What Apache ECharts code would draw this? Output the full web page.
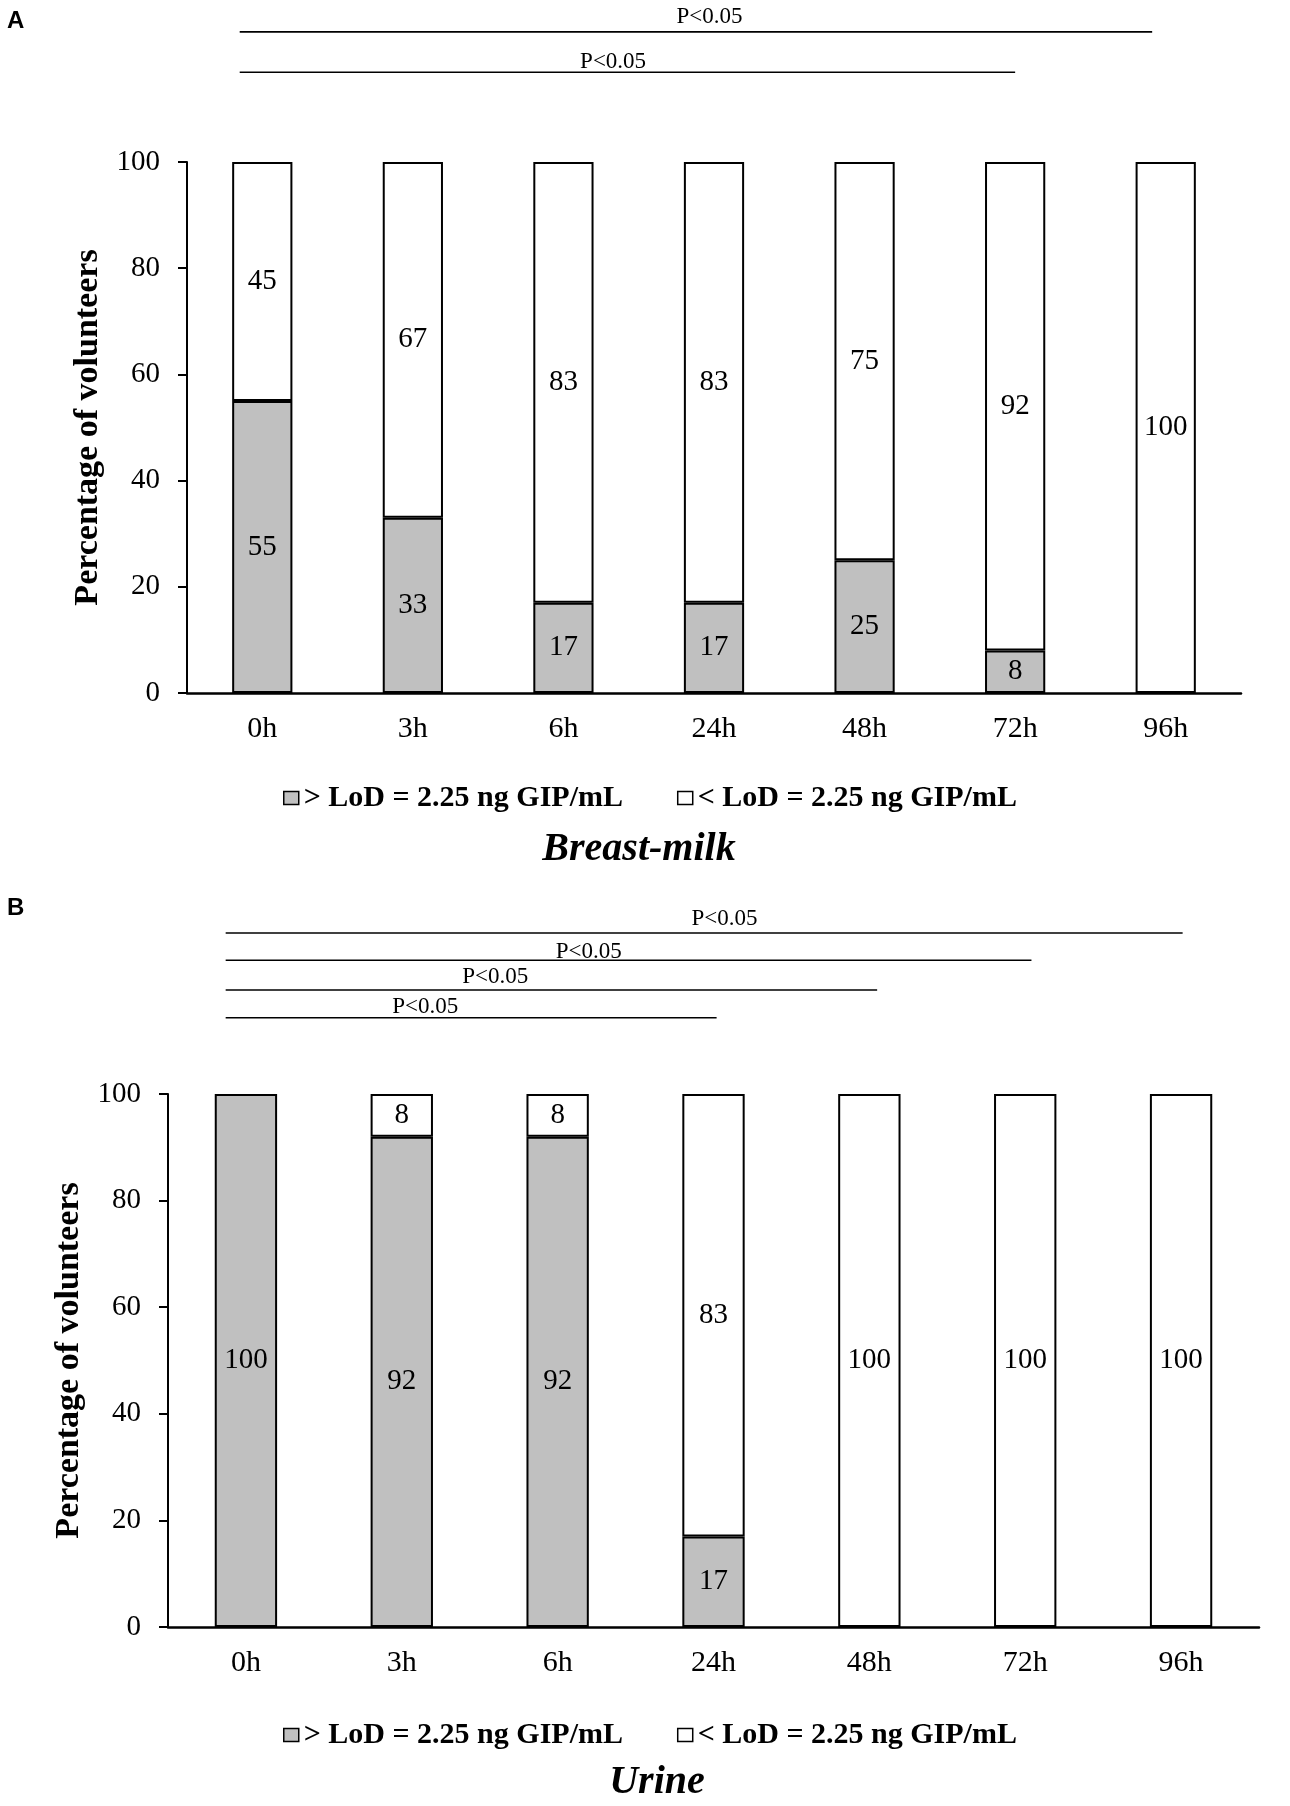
<!DOCTYPE html>
<html>
<head>
<meta charset="utf-8">
<title>GIP detection</title>
<script src="https://cdn.jsdelivr.net/npm/echarts@6/dist/echarts.min.js"></script>
<style>
    html, body { margin: 0; padding: 0; background: #fff; }
    #chart { width: 1290px; height: 1806px; }
</style>
</head>
<body>
<div id="chart"></div>
<script type="text/javascript">
    var categories = ['0h', '3h', '6h', '24h', '48h', '72h', '96h'];
    var yTicks = [0, 20, 40, 60, 80, 100];

    // Breast-milk (panel A)
    var milkAbove = [55, 33, 17, 17, 25, 8, 0];
    var milkBelow = [45, 67, 83, 83, 75, 92, 100];
    // Urine (panel B)
    var urineAbove = [100, 92, 92, 17, 0, 0, 0];
    var urineBelow = [0, 8, 8, 83, 100, 100, 100];

    // significance brackets: [from, to, level, label x, label level]
    // x in category units (0 = 0h centre), level in % units above the 100 line
    var milkBrackets = [
        [-0.15, 5.91, 124.5, 2.97, 127.4],
        [-0.15, 5.00, 116.9, 2.33, 118.8]
    ];
    var urineBrackets = [
        [-0.13, 6.01, 130.2, 3.07, 132.8],
        [-0.13, 5.04, 125.1, 2.20, 126.6],
        [-0.13, 4.05, 119.5, 1.60, 121.9],
        [-0.13, 3.02, 114.3, 1.15, 116.4]
    ];

    var nameAbove = '> LoD = 2.25 ng GIP/mL';
    var nameBelow = '< LoD = 2.25 ng GIP/mL';
    var serif = '"Liberation Serif", "Times New Roman", serif';

    var myChart = echarts.init(document.getElementById('chart'));

    // empty segments are not drawn (no border line at 0)
    function noZero(arr) {
        return arr.map(function (v) { return v === 0 ? '-' : v; });
    }

    function renderBracket(params, api) {
        var p0 = api.coord([api.value(0), api.value(2)]);
        var p1 = api.coord([api.value(1), api.value(2)]);
        var pt = api.coord([api.value(3), api.value(4)]);
        return {
            type: 'group',
            children: [
                {
                    type: 'line',
                    shape: {x1: p0[0], y1: p0[1], x2: p1[0], y2: p1[1]},
                    style: {stroke: '#000', lineWidth: 1.6}
                },
                {
                    type: 'text',
                    x: pt[0],
                    y: pt[1],
                    style: {
                        text: 'P<0.05', fill: '#000',
                        font: '23px ' + serif,
                        align: 'center', verticalAlign: 'middle'
                    }
                }
            ]
        };
    }

    function catAxis(idx) {
        return {
            type: 'category',
            gridIndex: idx,
            data: categories,
            axisLine: {lineStyle: {color: '#000', width: 2.5}},
            axisTick: {show: false},
            axisLabel: {color: '#000', fontFamily: serif, fontSize: 30, margin: 21}
        };
    }

    function valAxis(idx) {
        return {
            type: 'value',
            gridIndex: idx,
            min: yTicks[0],
            max: yTicks[yTicks.length - 1],
            interval: yTicks[1] - yTicks[0],
            name: 'Percentage of volunteers',
            nameLocation: 'middle',
            nameGap: 80,
            nameTextStyle: {color: '#000', fontFamily: serif, fontSize: 34, fontWeight: 'bold'},
            axisLine: {show: true, onZero: false, lineStyle: {color: '#000', width: 2}},
            axisTick: {show: true, length: 9, lineStyle: {color: '#000', width: 2}},
            axisLabel: {color: '#000', fontFamily: serif, fontSize: 29, margin: 27},
            splitLine: {show: false}
        };
    }

    function posAxis(idx) {
        return {type: 'value', gridIndex: idx, min: -0.5, max: 6.5, show: false};
    }

    function barSeries(name, data, color, xi, yi, stack) {
        return {
            name: name,
            type: 'bar',
            stack: stack,
            xAxisIndex: xi,
            yAxisIndex: yi,
            barWidth: '40%',
            data: noZero(data),
            itemStyle: {color: color, borderColor: '#000', borderWidth: 2},
            label: {
                show: true, position: 'inside',
                color: '#000', fontFamily: serif, fontSize: 29
            }
        };
    }

    function legendAt(top) {
        return {
            data: [nameAbove, nameBelow],
            left: 278,
            top: top,
            itemWidth: 15,
            itemHeight: 13,
            itemGap: 54,
            icon: 'rect',
            selectedMode: false,
            itemStyle: {borderColor: '#000', borderWidth: 1.5},
            textStyle: {color: '#000', fontFamily: serif, fontSize: 30, fontWeight: 'bold', padding: [0, 0, 0, 0]}
        };
    }

    var option = {
        backgroundColor: '#fff',
        animation: false,
        title: [
            {text: 'A', left: 2, top: 4, textStyle: {fontFamily: '"Liberation Sans", Arial', fontSize: 24, fontWeight: 'bold', color: '#000'}},
            {text: 'B', left: 2, top: 891, textStyle: {fontFamily: '"Liberation Sans", Arial', fontSize: 24, fontWeight: 'bold', color: '#000'}},
            {text: 'Breast-milk', left: 634, top: 825, textAlign: 'center',
                textStyle: {fontFamily: serif, fontSize: 40, fontWeight: 'bold', fontStyle: 'italic', color: '#000'}},
            {text: 'Urine', left: 652, top: 1758, textAlign: 'center',
                textStyle: {fontFamily: serif, fontSize: 40, fontWeight: 'bold', fontStyle: 'italic', color: '#000'}}
        ],
        legend: [legendAt(778), legendAt(1715)],
        grid: [
            {left: 187, top: 162, width: 1054, height: 531},
            {left: 168, top: 1094, width: 1091, height: 533}
        ],
        xAxis: [catAxis(0), catAxis(1), posAxis(0), posAxis(1)],
        yAxis: [valAxis(0), valAxis(1)],
        series: [
            barSeries(nameAbove, milkAbove, '#c0c0c0', 0, 0, 'milk'),
            barSeries(nameBelow, milkBelow, '#ffffff', 0, 0, 'milk'),
            barSeries(nameAbove, urineAbove, '#c0c0c0', 1, 1, 'urine'),
            barSeries(nameBelow, urineBelow, '#ffffff', 1, 1, 'urine'),
            {
                type: 'custom', xAxisIndex: 2, yAxisIndex: 0, clip: false,
                renderItem: renderBracket, data: milkBrackets, silent: true
            },
            {
                type: 'custom', xAxisIndex: 3, yAxisIndex: 1, clip: false,
                renderItem: renderBracket, data: urineBrackets, silent: true
            }
        ]
    };

    myChart.setOption(option);
</script>
</body>
</html>
